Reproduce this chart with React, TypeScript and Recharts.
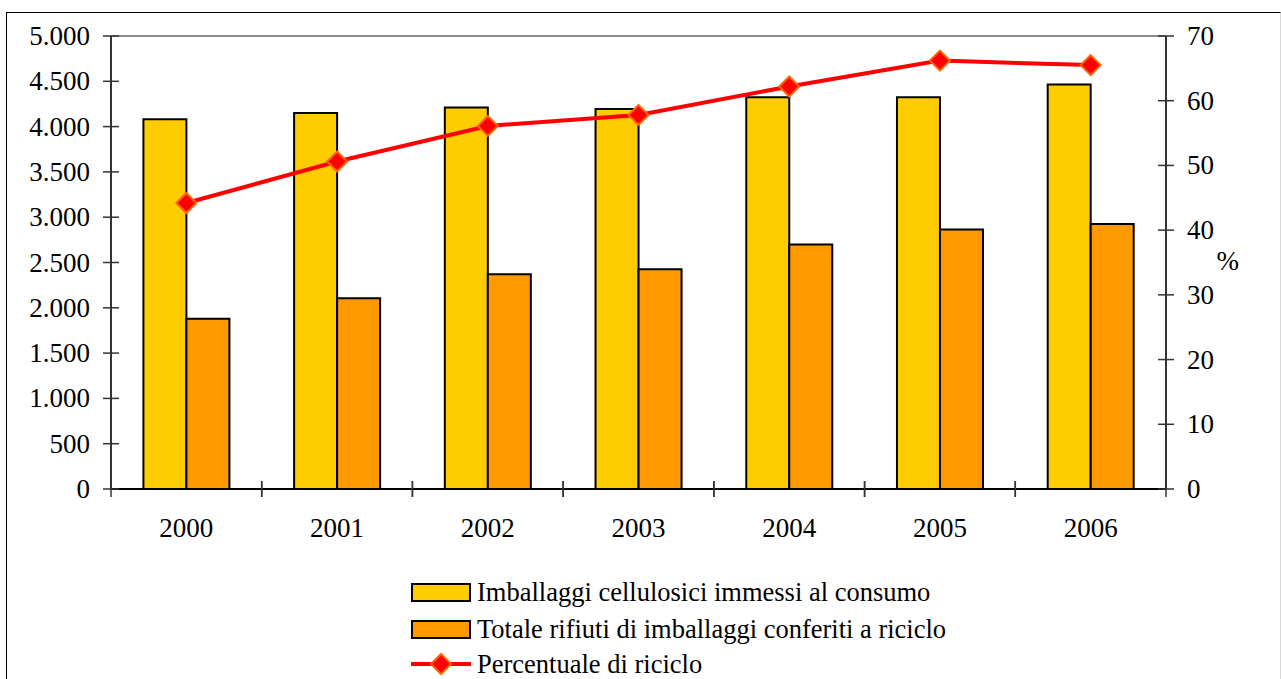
import React from "react";
import {
  ComposedChart,
  Bar,
  Line,
  XAxis,
  YAxis,
  ReferenceLine,
} from "recharts";

const FONT = "'Liberation Serif', 'Times New Roman', Times, serif";
const AXIS_FONT_SIZE = 27;
const LEGEND_FONT_SIZE = 26.5;
const COLOR_IMMESSI = "#FFCC00";
const COLOR_RICICLO = "#FF9900";
const COLOR_LINE = "#FF0000";
const COLOR_MARKER_EDGE = "#FF6600";
const COLOR_AXIS = "#333333";

const years = ["2000", "2001", "2002", "2003", "2004", "2005", "2006"];
const immessi = [4080, 4150, 4210, 4195, 4325, 4325, 4465];
const riciclo = [1880, 2105, 2370, 2425, 2700, 2865, 2925];
const percentuale = [44.2, 50.6, 56.1, 57.8, 62.2, 66.2, 65.5];

const leftTicks = [0, 500, 1000, 1500, 2000, 2500, 3000, 3500, 4000, 4500, 5000];
const rightTicks = [0, 10, 20, 30, 40, 50, 60, 70];

const legendLabels = [
  "Imballaggi cellulosici immessi al consumo",
  "Totale rifiuti di imballaggi conferiti a riciclo",
  "Percentuale di riciclo",
];

const data = years.map((y, i) => ({
  year: y,
  immessi: immessi[i],
  riciclo: riciclo[i],
  perc: percentuale[i],
}));

const fmtThousands = (v: number) =>
  v.toString().replace(/\B(?=(\d{3})+(?!\d))/g, ".");

function LeftTick({ x, y, payload }: any) {
  return (
    <g>
      <line x1={x - 8} x2={x + 8} y1={y} y2={y} stroke={COLOR_AXIS} strokeWidth={1.5} />
      <text x={x - 21} y={y + 9} textAnchor="end" fontFamily={FONT} fontSize={AXIS_FONT_SIZE} fill="#000">
        {fmtThousands(payload.value)}
      </text>
    </g>
  );
}

function RightTick({ x, y, payload }: any) {
  return (
    <g>
      <line x1={x - 8} x2={x + 8} y1={y} y2={y} stroke={COLOR_AXIS} strokeWidth={1.5} />
      <text x={x + 21} y={y + 9} textAnchor="start" fontFamily={FONT} fontSize={AXIS_FONT_SIZE} fill="#000">
        {payload.value}
      </text>
    </g>
  );
}

// etichetta dell'anno al centro, tacche sui confini delle categorie
function YearTick({ x, y, payload }: any) {
  const half = payload?.offset ?? 0;
  return (
    <g>
      <line x1={x - half} x2={x - half} y1={y - 8} y2={y + 8} stroke={COLOR_AXIS} strokeWidth={1.5} />
      <line x1={x + half} x2={x + half} y1={y - 8} y2={y + 8} stroke={COLOR_AXIS} strokeWidth={1.5} />
      <text x={x} y={y + 48} textAnchor="middle" fontFamily={FONT} fontSize={AXIS_FONT_SIZE} fill="#000">
        {payload.value}
      </text>
    </g>
  );
}

function Diamond({ cx, cy }: any) {
  if (cx == null || cy == null) return null;
  const r = 10;
  return (
    <polygon
      points={`${cx},${cy - r} ${cx + r},${cy} ${cx},${cy + r} ${cx - r},${cy}`}
      fill={COLOR_LINE}
      stroke={COLOR_MARKER_EDGE}
      strokeWidth={2}
    />
  );
}

function LegendBlock() {
  const rowStyle: React.CSSProperties = {
    position: "absolute",
    left: 411,
    display: "flex",
    alignItems: "center",
    fontFamily: FONT,
    fontSize: LEGEND_FONT_SIZE,
    lineHeight: "30px",
    color: "#000",
    whiteSpace: "nowrap",
  };
  const box = (fill: string): React.CSSProperties => ({
    width: 56,
    height: 15,
    background: fill,
    border: "2px solid #000",
    marginRight: 6,
  });
  return (
    <>
      <div style={{ ...rowStyle, top: 577 }}>
        <span style={box(COLOR_IMMESSI)} />
        {legendLabels[0]}
      </div>
      <div style={{ ...rowStyle, top: 614 }}>
        <span style={box(COLOR_RICICLO)} />
        {legendLabels[1]}
      </div>
      <div style={{ ...rowStyle, top: 649 }}>
        <svg width={60} height={24} style={{ marginRight: 6 }}>
          <line x1={0} x2={60} y1={12} y2={12} stroke={COLOR_LINE} strokeWidth={4} />
          <polygon points="30,2 40,12 30,22 20,12" fill={COLOR_LINE} stroke={COLOR_MARKER_EDGE} strokeWidth={2} />
        </svg>
        {legendLabels[2]}
      </div>
    </>
  );
}

export default function App() {
  return (
    <div style={{ position: "absolute", left: 0, top: 0, width: 1281, height: 679, overflow: "hidden", background: "#fff" }}>
      {/* cornice del grafico */}
      <div
        style={{
          position: "absolute",
          left: 6,
          top: 12,
          width: 1273,
          height: 700,
          borderLeft: "1.5px solid #000",
          borderTop: "1.5px solid #000",
          borderRight: "1px solid #d8d8d8",
        }}
      />
      <div style={{ position: "absolute", left: 0, top: 0 }}>
        <ComposedChart
          width={1281}
          height={679}
          data={data}
          margin={{ top: 36, right: 0, left: 0, bottom: 0 }}
          barCategoryGap="21.5%"
          barGap={0}
        >
          <XAxis
            dataKey="year"
            height={190}
            axisLine={{ stroke: "#000", strokeWidth: 2 }}
            tickLine={false}
            tickSize={0}
            tickMargin={0}
            tick={<YearTick />}
            interval={0}
          />
          <YAxis
            yAxisId="left"
            width={111}
            domain={[0, 5000]}
            ticks={leftTicks}
            axisLine={{ stroke: COLOR_AXIS, strokeWidth: 2 }}
            tickLine={false}
            tickSize={0}
            tickMargin={0}
            tick={<LeftTick />}
            interval={0}
          />
          <YAxis
            yAxisId="right"
            orientation="right"
            width={115}
            domain={[0, 70]}
            ticks={rightTicks}
            axisLine={{ stroke: COLOR_AXIS, strokeWidth: 2 }}
            tickLine={false}
            tickSize={0}
            tickMargin={0}
            tick={<RightTick />}
            interval={0}
            label={{ value: "%", position: "insideRight", offset: 0, dx: -42, dy: -2, fontFamily: FONT, fontSize: AXIS_FONT_SIZE, fill: "#000" }}
          />
          {/* bordo superiore dell'area del grafico */}
          <ReferenceLine yAxisId="left" y={5000} stroke="#8c8c8c" strokeWidth={2} ifOverflow="extendDomain" />
          <Bar
            yAxisId="left"
            dataKey="immessi"
            fill={COLOR_IMMESSI}
            stroke="#000"
            strokeWidth={2}
            isAnimationActive={false}
          />
          <Bar
            yAxisId="left"
            dataKey="riciclo"
            fill={COLOR_RICICLO}
            stroke="#000"
            strokeWidth={2}
            isAnimationActive={false}
          />
          <Line
            yAxisId="right"
            type="linear"
            dataKey="perc"
            stroke={COLOR_LINE}
            strokeWidth={4}
            dot={<Diamond />}
            activeDot={false}
            isAnimationActive={false}
          />
        </ComposedChart>
      </div>
      <LegendBlock />
    </div>
  );
}
